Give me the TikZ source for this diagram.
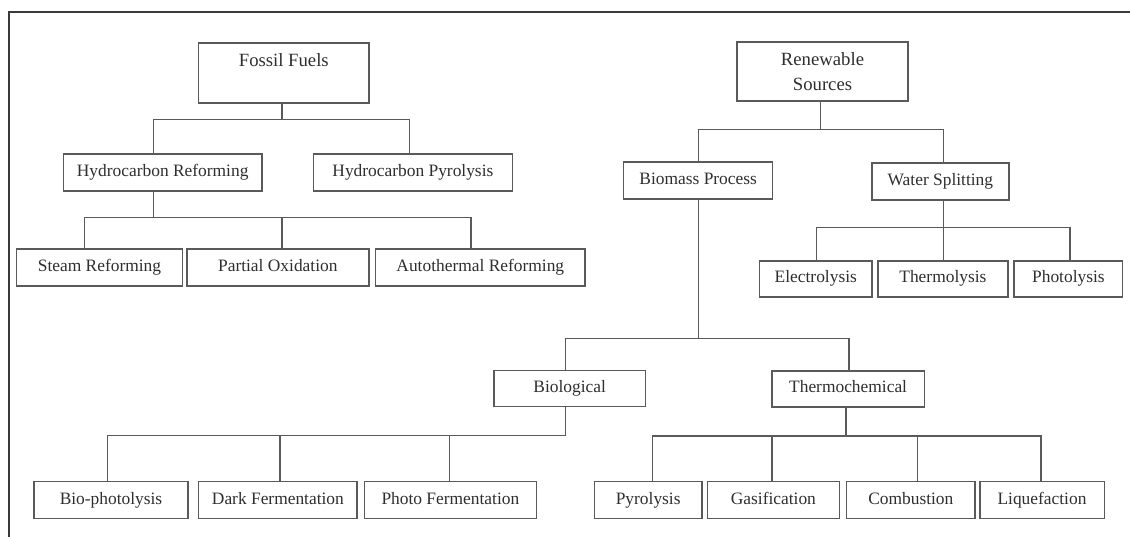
\documentclass[tikz,border=0pt]{standalone}
\usepackage{fontspec}
\setmainfont{Liberation Serif}
\begin{document}
\begin{tikzpicture}[x=1pt,y=-1pt,
  basebox/.style={draw=boxgray, line width=1.4pt, inner sep=0pt, text=txtgray, align=center},
  box/.style={basebox, font=\fontsize{17.4}{21}\selectfont, text height=12pt, text depth=4pt},
  topbox/.style={basebox, font=\fontsize{18.7}{25}\selectfont},
  conn/.style={draw=boxgray, line width=1.4pt}]
\definecolor{boxgray}{HTML}{5A5A5A}
\definecolor{txtgray}{HTML}{2E2E2E}
\definecolor{framegray}{HTML}{3A3A3A}
\useasboundingbox (0,0) rectangle (1130,537);
\draw[framegray, line width=1.5pt] (9,537) -- (9,12) -- (1130,12);
% top level
\node[topbox, minimum width=170.5pt, minimum height=60pt] (ff) at (283.8,73) {Fossil Fuels\\\mbox{}};
\node[topbox, minimum width=171pt, minimum height=59pt] (rs) at (822.5,71.5) {Renewable\\Sources};
% second level
\node[box, minimum width=198.7pt, minimum height=37pt] (hr) at (162.7,172.5) {Hydrocarbon Reforming};
\node[box, minimum width=199pt, minimum height=37pt] (hp) at (412.9,172.5) {Hydrocarbon Pyrolysis};
\node[box, minimum width=149.1pt, minimum height=37pt] (bp) at (698.2,180.5) {Biomass Process};
\node[box, minimum width=137pt, minimum height=37pt] (ws) at (940.4,181.5) {Water Splitting};
% fossil children
\node[box, minimum width=165.8pt, minimum height=37pt] (sr) at (99.5,267.5) {Steam Reforming};
\node[box, minimum width=182pt, minimum height=37pt] (po) at (277.8,267.5) {Partial Oxidation};
\node[box, minimum width=209.5pt, minimum height=37pt] (ar) at (480.3,267.5) {Autothermal Reforming};
% water splitting children
\node[box, minimum width=112.3pt, minimum height=36pt] (el) at (815.8,279) {Electrolysis};
\node[box, minimum width=129.8pt, minimum height=36pt] (th) at (942.9,279) {Thermolysis};
\node[box, minimum width=108.7pt, minimum height=36pt] (ph) at (1068.4,279) {Photolysis};
% biomass children
\node[box, minimum width=151.5pt, minimum height=36pt] (bio) at (569.7,388.7) {Biological};
\node[box, minimum width=152.2pt, minimum height=36pt] (tc) at (848.1,388.8) {Thermochemical};
% biological children
\node[box, minimum width=154pt, minimum height=36.6pt] (bph) at (111,500) {Bio-photolysis};
\node[box, minimum width=158.3pt, minimum height=36.6pt] (df) at (277.9,500) {Dark Fermentation};
\node[box, minimum width=172pt, minimum height=36.6pt] (pf) at (450.4,500) {Photo Fermentation};
% thermochemical children
\node[box, minimum width=107.3pt, minimum height=36.6pt] (py) at (648.2,500) {Pyrolysis};
\node[box, minimum width=131.6pt, minimum height=36.6pt] (ga) at (773.4,500) {Gasification};
\node[box, minimum width=128.7pt, minimum height=36.6pt] (co) at (910.8,500) {Combustion};
\node[box, minimum width=124.4pt, minimum height=36.6pt] (lq) at (1042,500) {Liquefaction};
% connectors
\draw[conn] ([xshift=-1.8pt]ff.south) -- ++(0,16) coordinate (b1);
\draw[conn] ([xshift=-9.2pt]hr.north) |- (b1) -| ([xshift=-3.4pt]hp.north);
\draw[conn] ([xshift=-9.2pt]hr.south) -- ++(0,26) coordinate (b2);
\draw[conn] ([xshift=-15.1pt]sr.north) |- (b2) -| ([xshift=-9.3pt]ar.north);
\draw[conn] ([xshift=4.2pt]po.north) -- ([xshift=4.2pt]po.north |- b2);
\draw[conn] ([xshift=-1.9pt]rs.south) -- ++(0,28) coordinate (b3);
\draw[conn] (bp.north) |- (b3) -| ([xshift=3.1pt]ws.north);
\draw[conn] ([xshift=3.1pt]ws.south) -- ++(0,27) coordinate (b4);
\draw[conn] ([xshift=0.8pt]el.north) |- (b4) -| ([xshift=1.6pt]ph.north);
\draw[conn] (b4) -- (b4 |- th.north);
\draw[conn] (bp.south) -- ++(0,138.7) coordinate (b5);
\draw[conn] ([xshift=-4pt]bio.north) |- (b5) -| ([xshift=0.9pt]tc.north);
\draw[conn] ([xshift=-4pt]bio.south) -- ++(0,28.3) coordinate (b6);
\draw[conn] ([xshift=-3.7pt]bph.north) |- (b6);
\draw[conn] ([xshift=2.1pt]df.north) -- ([xshift=2.1pt]df.north |- b6);
\draw[conn] ([xshift=-0.9pt]pf.north) -- ([xshift=-0.9pt]pf.north |- b6);
\draw[conn] ([xshift=-2.1pt]tc.south) -- ++(0,28.3) coordinate (b7);
\draw[conn] ([xshift=4.5pt]py.north) |- (b7) -| ([xshift=-1pt]lq.north);
\draw[conn] ([xshift=-1.4pt]ga.north) -- ([xshift=-1.4pt]ga.north |- b7);
\draw[conn] ([xshift=6.5pt]co.north) -- ([xshift=6.5pt]co.north |- b7);
\end{tikzpicture}
\end{document}
